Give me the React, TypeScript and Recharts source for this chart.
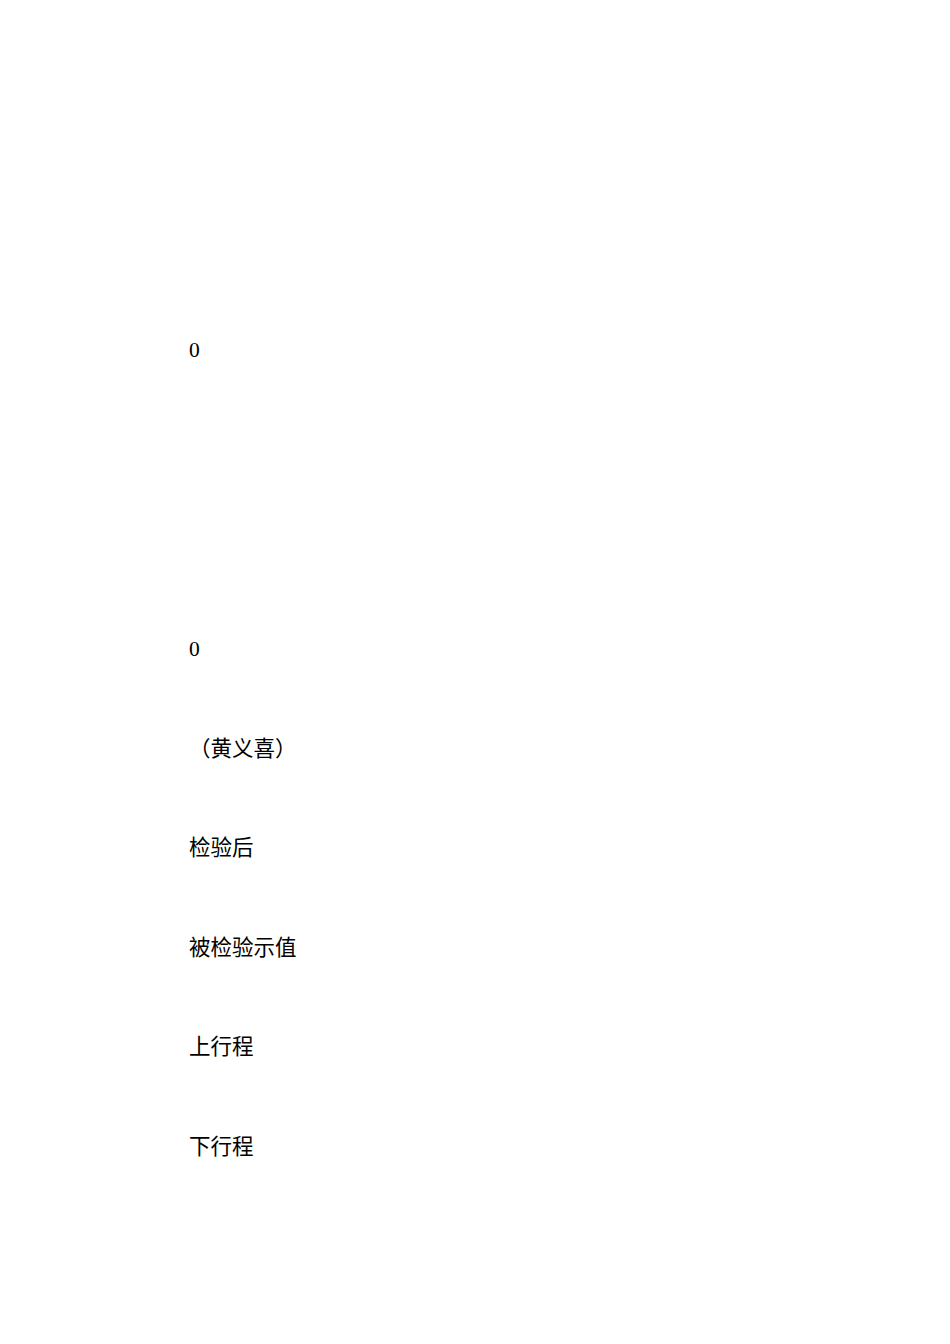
import React from "react";
import { ScatterChart, Scatter, XAxis, YAxis } from "recharts";

const labels = ["0", "0", "（黄义喜）", "检验后", "被检验示值", "上行程", "下行程"];
const rows = [0, 3, 4, 5, 6, 7, 8];
const column = 189;

const data = labels.map((text, i) => ({ x: column, y: rows[i], text }));

const TextShape = (props: any) => {
  const { cx, cy, payload } = props;
  return (
    <text
      x={cx}
      y={cy + 9}
      fontSize={21.5}
      fontFamily="'Liberation Serif', 'Noto Sans CJK SC', serif"
      fill="#000"
      textAnchor="start"
    >
      {payload.text}
    </text>
  );
};

export default function App() {
  return (
    <div style={{ position: "absolute", left: 0, top: 0, width: 950, height: 1344, background: "#fff" }}>
      <ScatterChart width={950} height={1344} margin={{ top: 0, right: 0, bottom: 0, left: 0 }}>
        <XAxis type="number" dataKey="x" domain={[0, 950]} hide />
        <YAxis type="number" dataKey="y" domain={[-3.5, 10]} reversed hide />
        <Scatter data={data} shape={TextShape} isAnimationActive={false} />
      </ScatterChart>
    </div>
  );
}
